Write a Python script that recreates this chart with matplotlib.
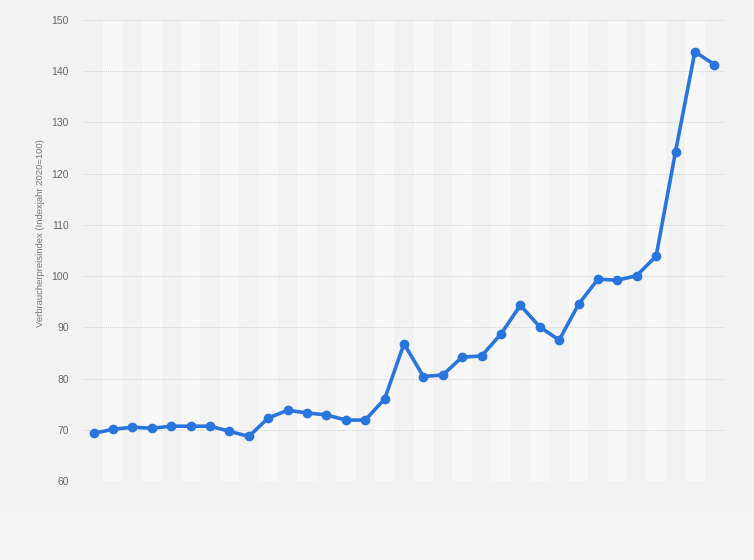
import numpy as np
import matplotlib.pyplot as plt
from matplotlib.patches import Rectangle

# Verbraucherpreisindex, Indexjahr 2020 = 100
values = [69.3, 70.1, 70.5, 70.3, 70.7, 70.7, 70.7, 69.7, 68.7, 72.3, 73.8,
          73.3, 72.9, 71.9, 71.9, 76.0, 86.8, 80.4, 80.7, 84.2, 84.4, 88.7,
          94.3, 90.1, 87.5, 94.5, 99.4, 99.2, 100.1, 103.9, 124.3, 143.8, 141.3]
y_ticks = [60, 70, 80, 90, 100, 110, 120, 130, 140, 150]
y_label = "Verbraucherpreisindex (Indexjahr 2020=100)"

plt.rcParams['font.family'] = ['Liberation Sans', 'DejaVu Sans']

x = np.arange(len(values))

fig = plt.figure(figsize=(7.54, 5.6), dpi=100)
fig.patch.set_facecolor("#f4f4f4")
# Fläche des Diagramms (etwas dunkler als der untere Rand)
fig.patches.append(Rectangle((0, 48 / 560), 1, 512 / 560, transform=fig.transFigure,
                             facecolor="#f2f2f2", edgecolor="none", zorder=-1))

ax = fig.add_axes([84 / 754, 79 / 560, 640 / 754, 461 / 560])
ax.set_facecolor("#f8f8f8")

# abwechselnde Spalten
for i in x:
    if i % 2 == 0:
        ax.axvspan(i - 0.5, i + 0.5, color="#f2f2f2", lw=0, zorder=0)

ax.set_xlim(-0.5, len(values) - 0.5)
ax.set_ylim(60, 150)
ax.set_yticks(y_ticks)
ax.set_xticks([])
ax.grid(axis="y", color="#cfcfcf", linestyle=(0, (1, 1.2)), linewidth=0.7, zorder=1)
ax.tick_params(axis="y", length=0, pad=11, labelsize=7.5, labelcolor="#666666")
for s in ax.spines.values():
    s.set_visible(False)

ax.plot(x, values, color="#2876dd", linewidth=2.6, marker="o", markersize=6,
        zorder=3, solid_joinstyle="round")

ax.set_ylabel(y_label, fontsize=6.8, color="#777777")
ax.yaxis.set_label_coords(-0.061, 0.538)

fig.savefig("out.png", dpi=100, facecolor=fig.get_facecolor())
